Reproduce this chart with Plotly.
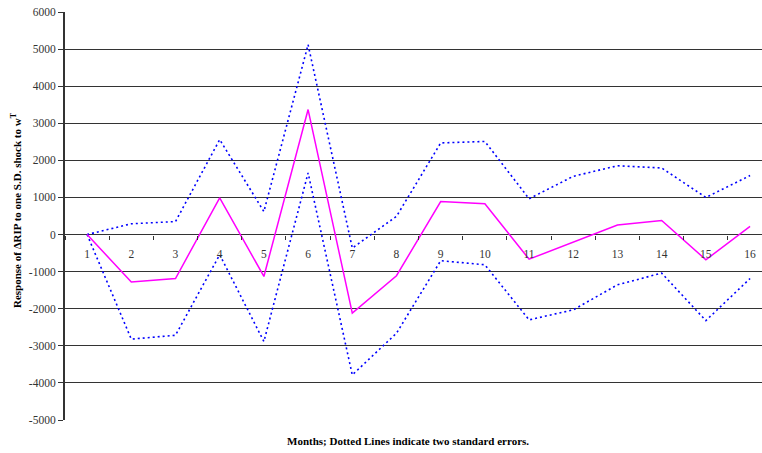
import plotly.graph_objects as go

months = list(range(1, 17))
response = [0, -1280, -1185, 990, -1130, 3370, -2120, -1110, 890, 830, -665, -205, 255, 380, -680, 220]
upper = [0, 290, 350, 2560, 620, 5120, -365, 490, 2470, 2510, 965, 1570, 1855, 1795, 1000, 1590]
lower = [0, -2820, -2715, -545, -2885, 1660, -3785, -2660, -705, -815, -2300, -2030, -1355, -1040, -2320, -1185]
y_ticks = list(range(-5000, 6001, 1000))
y_tick_text = [str(v) for v in y_ticks]

SERIF = "Liberation Serif, Times New Roman, serif"

fig = go.Figure()
fig.add_trace(go.Scatter(x=months, y=upper, mode="lines",
                         line=dict(color="#0000FF", width=1.6, dash="2px,3px"), showlegend=False))
fig.add_trace(go.Scatter(x=months, y=lower, mode="lines",
                         line=dict(color="#0000FF", width=1.6, dash="2px,3px"), showlegend=False))
fig.add_trace(go.Scatter(x=months, y=response, mode="lines",
                         line=dict(color="#FF00FF", width=1.5), showlegend=False))

fig.update_layout(
    width=762, height=453,
    margin=dict(l=65, r=0, t=12, b=33),
    paper_bgcolor="white", plot_bgcolor="white",
    font=dict(family=SERIF, size=11.5, color="#333333"),
    xaxis=dict(
        range=[0.5, 16.27], tickmode="array", tickvals=months,
        ticktext=[str(m) for m in months],
        showgrid=False, zeroline=False, showline=False,
        anchor="free", position=5 / 11,
        ticks="", ticklabelstandoff=11,
        tickfont=dict(family=SERIF, size=11.5, color="#333333"),
        minor=dict(tickmode="linear", tick0=0.5, dtick=1, ticks="outside",
                   ticklen=4, tickcolor="#333333", tickwidth=1, showgrid=False),
    ),
    yaxis=dict(
        range=[-5000, 6000], tickmode="array", tickvals=y_ticks, ticktext=y_tick_text,
        showgrid=True, gridcolor="#333333", gridwidth=1,
        zeroline=False,
        showline=True, linecolor="#333333", linewidth=2,
        ticks="outside", ticklen=5, tickcolor="#333333",
        tickfont=dict(family=SERIF, size=11.5, color="#333333"),
    ),
    annotations=[
        dict(text="Response of \u0394RIP to one S.D. shock to w<sup>T</sup>",
             xref="paper", yref="paper", x=-49 / 697, y=(420 - 210) / 408,
             textangle=-90, showarrow=False, xanchor="center", yanchor="middle",
             font=dict(family=SERIF, size=11, color="black", weight="bold")),
        dict(text="Months; Dotted Lines indicate two standard errors.",
             xref="paper", yref="paper", x=(408 - 65) / 697, y=-(441 - 420) / 408,
             showarrow=False, xanchor="center", yanchor="middle",
             font=dict(family=SERIF, size=11, color="black", weight="bold")),
    ],
)

fig.write_html("out.html")
